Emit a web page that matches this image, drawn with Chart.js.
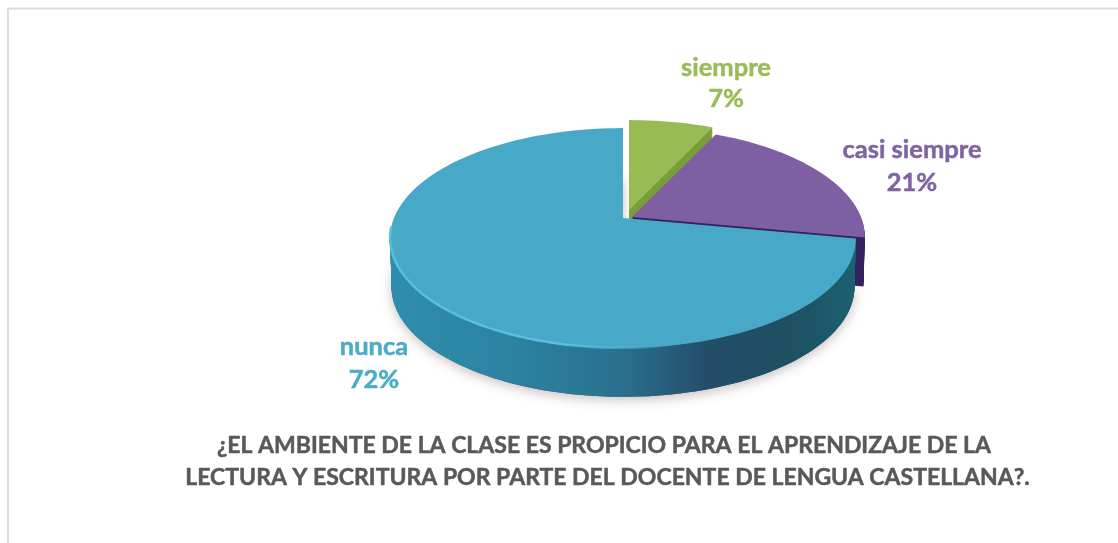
<!DOCTYPE html>
<html>
<head>
<meta charset="utf-8">
<style>html,body{margin:0;padding:0;background:#fff}canvas{display:block;filter:blur(0.45px)}</style>
<script src="https://cdn.jsdelivr.net/npm/chart.js@4/dist/chart.umd.min.js"></script>
</head>
<body>
<canvas id="c" width="1118" height="543"></canvas>
<script>
const categories = ["siempre", "casi siempre", "nunca"];
const values = [7, 21, 72];
const faceColors = ["#98BB53", "#7E5FA2", "#47A9C7"];
const labelColors = ["#9BBB59", "#8064A2", "#4BACC6"];
const titleLines = [
  "¿EL AMBIENTE DE LA CLASE ES PROPICIO PARA EL APRENDIZAJE DE LA",
  "LECTURA Y ESCRITURA POR PARTE DEL DOCENTE DE LENGUA CASTELLANA?."
];

const sliceShift = [[6, -8], [9, -1], [0, 0]];
const labelPos = [[726, 68, 99], [912, 150, 183], [374, 347, 380]];
const titlePos = [[604, 446], [607.5, 478]];
const PERSP = 0.1818, SQUASH = 0.464, DEPTH = 49;

function project(el, a, sx, sy, down) {
  const u = Math.cos(a), v = -Math.sin(a), w = 1 + PERSP * v, R = el.outerRadius;
  const k = 1 - 0.006 * (down / DEPTH);
  return [el.x + sx + k * R * u / w, el.y + sy + down - SQUASH * R * v / w];
}
function slicePath(ctx, el, sx, sy, down) {
  const n = Math.max(8, Math.ceil((el.endAngle - el.startAngle) / (Math.PI / 90)));
  ctx.beginPath();
  ctx.moveTo(el.x + sx, el.y + sy + down);
  for (let i = 0; i <= n; i++) {
    const p = project(el, el.startAngle + (el.endAngle - el.startAngle) * i / n, sx, sy, down);
    ctx.lineTo(p[0], p[1]);
  }
  ctx.closePath();
}

const pie3d = {
  id: "pie3d",
  beforeDraw(chart) {
    const ctx = chart.ctx;
    ctx.save();
    ctx.fillStyle = "#fff";
    ctx.fillRect(0, 0, chart.width, chart.height);
    ctx.strokeStyle = "#DCDCDC";
    ctx.lineWidth = 2;
    ctx.beginPath();
    ctx.moveTo(8, 543); ctx.lineTo(8, 8.5); ctx.lineTo(1118, 8.5);
    ctx.stroke();
    ctx.restore();
  },
  beforeDatasetsDraw(chart) {
    const ctx = chart.ctx, arcs = chart.getDatasetMeta(0).data;
    ctx.save();
    const blueSide = ctx.createLinearGradient(390, 0, 860, 0);
    blueSide.addColorStop(0, "#2F8DAE");
    blueSide.addColorStop(0.25, "#2B83A2");
    blueSide.addColorStop(0.5, "#2A6F8E");
    blueSide.addColorStop(0.68, "#234C68");
    blueSide.addColorStop(0.85, "#1E5062");
    blueSide.addColorStop(1, "#1B6270");
    const sideColors = ["#7C9C3C", "#33225F", blueSide];

    // ground shadow of the whole pie
    ctx.save();
    ctx.shadowColor = "rgba(110,70,70,0.35)";
    ctx.shadowBlur = 12;
    ctx.shadowOffsetY = 3;
    ctx.fillStyle = "#2A6F8E";
    slicePath(ctx, arcs[2], sliceShift[2][0], sliceShift[2][1], DEPTH);
    ctx.fill();
    ctx.restore();

    arcs.forEach((el, i) => {
      const s = sliceShift[i];
      ctx.fillStyle = sideColors[i];
      for (let d = DEPTH; d > 0; d--) {
        slicePath(ctx, el, s[0], s[1], d);
        ctx.fill();
      }
      ctx.fillStyle = faceColors[i];
      slicePath(ctx, el, s[0], s[1], 0);
      ctx.fill();
    });

    // light rim along the front-left edge of the largest slice
    const el = arcs[2], s = sliceShift[2];
    const rim = ctx.createLinearGradient(390, 0, 680, 0);
    rim.addColorStop(0, "#58BEE2");
    rim.addColorStop(0.6, "#58BEE2");
    rim.addColorStop(1, "rgba(88,190,226,0)");
    ctx.strokeStyle = rim;
    ctx.lineWidth = 2.5;
    ctx.beginPath();
    for (let a = Math.PI * 0.42; a <= Math.PI * 0.98; a += 0.02) {
      const p = project(el, a, s[0], s[1], 0);
      ctx.lineTo(p[0], p[1]);
    }
    ctx.stroke();
    ctx.restore();
    return false;
  },
  afterDraw(chart) {
    const ctx = chart.ctx;
    ctx.save();
    ctx.textAlign = "center";
    ctx.textBaseline = "middle";
    ctx.lineJoin = "round";
    ctx.font = "bold 25.5px Lato";
    ctx.lineWidth = 0.5;
    categories.forEach((name, i) => {
      ctx.fillStyle = ctx.strokeStyle = labelColors[i];
      ctx.fillText(name, labelPos[i][0], labelPos[i][1]);
      ctx.strokeText(name, labelPos[i][0], labelPos[i][1]);
      ctx.fillText(values[i] + "%", labelPos[i][0], labelPos[i][2]);
      ctx.strokeText(values[i] + "%", labelPos[i][0], labelPos[i][2]);
    });
    ctx.font = "bold 23px Lato";
    ctx.fillStyle = ctx.strokeStyle = "#595959";
    titleLines.forEach((line, i) => {
      ctx.fillText(line, titlePos[i][0], titlePos[i][1]);
      ctx.strokeText(line, titlePos[i][0], titlePos[i][1]);
    });
    ctx.restore();
  }
};

new Chart(document.getElementById("c"), {
  type: "pie",
  data: {
    labels: categories,
    datasets: [{ data: values, backgroundColor: faceColors, borderWidth: 0, radius: 229 }]
  },
  options: {
    responsive: false,
    animation: false,
    layout: { padding: { left: 128, right: 0, top: 0, bottom: 107 } },
    plugins: { legend: { display: false }, tooltip: { enabled: false } }
  },
  plugins: [pie3d]
});
</script>
</body>
</html>
